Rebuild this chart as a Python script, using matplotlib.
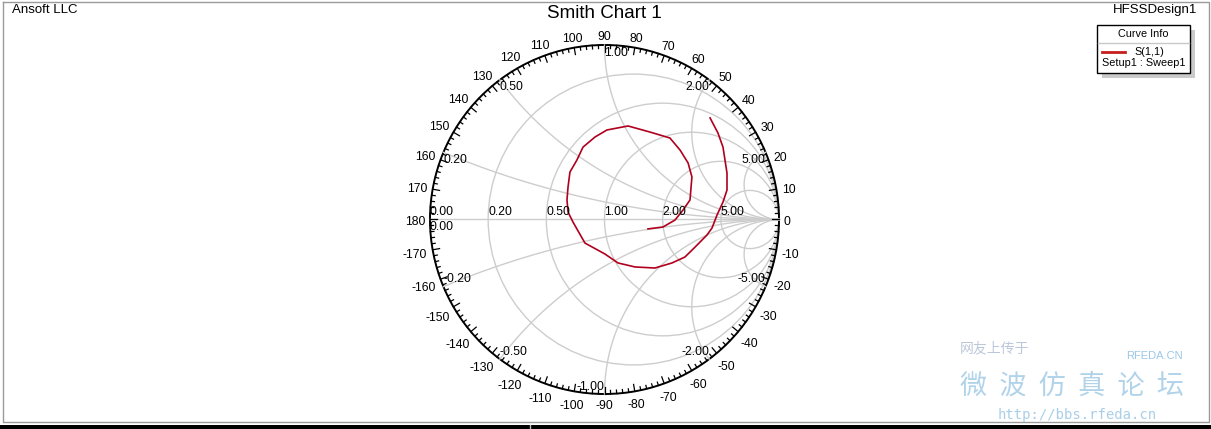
import numpy as np
import matplotlib.pyplot as plt
from matplotlib.patches import Rectangle, Circle

plt.rcParams['font.family'] = ['Liberation Sans', 'DejaVu Sans']

s11_re = [0.605, 0.650, 0.679, 0.702, 0.702, 0.679, 0.645, 0.616, 0.587, 0.519,
          0.461, 0.387, 0.289, 0.175, 0.077, 0.003, -0.112, -0.181, -0.209, -0.215,
          -0.209, -0.198, -0.158, -0.123, -0.054, 0.014, 0.135, 0.261, 0.375, 0.433,
          0.479, 0.501, 0.490, 0.450, 0.404, 0.335, 0.249]
s11_im = [0.582, 0.496, 0.415, 0.266, 0.169, 0.100, 0.026, -0.049, -0.089, -0.158,
          -0.215, -0.249, -0.278, -0.272, -0.249, -0.198, -0.135, -0.014, 0.043, 0.112,
          0.186, 0.272, 0.341, 0.415, 0.473, 0.513, 0.536, 0.501, 0.467, 0.398,
          0.324, 0.244, 0.112, 0.054, -0.003, -0.043, -0.054]

r_values = [0.2, 0.5, 1.0, 2.0, 5.0]
x_values = [0.2, 0.5, 1.0, 2.0, 5.0]
angle_labels = list(range(-170, 190, 10))

W, H = 1211, 429
cx, cy, R = 604.5, 219.5, 174.5
span = 1.3
grid_c = '#cdcdcd'
fs = 8.8

fig = plt.figure(figsize=(W / 100, H / 100), dpi=100)

# frame / decorations in pixel coordinates
bg = fig.add_axes([0, 0, 1, 1])
bg.set_xlim(0, W)
bg.set_ylim(H, 0)
bg.axis('off')
bg.plot([2.5, 1208.5, 1208.5, 2.5, 2.5], [1.5, 1.5, 421.5, 421.5, 1.5], color='#9a9a9a', lw=1)
bg.add_patch(Rectangle((0, 425), W, 5, color='black', lw=0))
bg.plot([530, 530], [425, 429], color='#bbbbbb', lw=1)
bg.text(12, 10, 'Ansoft LLC', fontsize=9.5, va='center', ha='left')
bg.text(1197, 10, 'HFSSDesign1', fontsize=9.5, va='center', ha='right')
bg.text(cx, 13, 'Smith Chart 1', fontsize=13.5, va='center', ha='center')

# legend box
bg.add_patch(Rectangle((1102, 30), 93, 48, color='#cacaca', lw=0))
bg.add_patch(Rectangle((1097, 25), 93, 48, facecolor='white', edgecolor='black', lw=1))
bg.plot([1098, 1189], [43, 43], color='#c8c8c8', lw=1)
bg.text(1143.5, 34, 'Curve Info', fontsize=7.8, ha='center', va='center')
bg.plot([1102, 1125], [52, 52], color='#c81e1e', lw=2)
bg.text(1134, 52, 'S(1,1)', fontsize=7.8, ha='left', va='center')
bg.text(1144, 63.5, 'Setup1 : Sweep1', fontsize=7.8, ha='center', va='center')

# forum watermark
wm = '#a9cfe8'
bg.text(960, 348, '网友上传于', fontsize=10, color='#bcc8da', family=['Noto Sans CJK SC'], va='center')
bg.text(1126, 356, 'RFEDA.CN', fontsize=8, color='#9cc6e6', va='center')
bg.text(1072, 386, '微  波  仿  真  论  坛', fontsize=19.5, color=wm, family=['Noto Sans CJK SC'],
        ha='center', va='center', alpha=0.9)
bg.text(1077, 415, 'http://bbs.rfeda.cn', fontsize=10, color=wm, family=['DejaVu Sans Mono'],
        ha='center', va='center')

# smith chart axes in reflection-coefficient units
ax = fig.add_axes([(cx - span * R) / W, (H - cy - span * R) / H, 2 * span * R / W, 2 * span * R / H])
ax.set_xlim(-span, span)
ax.set_ylim(-span, span)
ax.axis('off')
px = 1.0 / R

# resistance circles
for r in r_values:
    ax.add_patch(Circle((r / (1 + r), 0), 1 / (1 + r), fill=False, color=grid_c, lw=1))
ax.plot([-1, 1], [0, 0], color=grid_c, lw=1)

# reactance arcs
for x in x_values:
    rim = complex(x * x - 1, 2 * x) / (x * x + 1)
    phi0 = np.angle(rim - complex(1, 1 / x))
    phi0 = phi0 if phi0 > 0 else phi0 + 2 * np.pi
    t = np.linspace(phi0, 1.5 * np.pi, 200)
    ax_ = 1 + np.cos(t) / x
    ay_ = 1 / x + np.sin(t) / x
    ax.plot(ax_, ay_, color=grid_c, lw=1)
    ax.plot(ax_, -ay_, color=grid_c, lw=1)

# outer circle and angle ticks
ax.add_patch(Circle((0, 0), 1, fill=False, color='black', lw=1.4))
for a in range(0, 360, 2):
    L = 7 if a % 10 == 0 else 3.5
    t = np.deg2rad(a)
    ax.plot([np.cos(t), (1 - L * px) * np.cos(t)], [np.sin(t), (1 - L * px) * np.sin(t)],
            color='black', lw=0.9)

for a in angle_labels:
    s = str(a)
    w = 6.7 * len(s.lstrip('-')) + (4 if a < 0 else 0)
    t = np.deg2rad(a)
    off = 5 + abs(np.cos(t)) * w / 2 + abs(np.sin(t)) * 5
    rr = 1 + off * px
    ax.text(rr * np.cos(t), rr * np.sin(t) - 2.5 * px, s, fontsize=fs, ha='center', va='center')

# resistance labels
for r in [0.0] + r_values:
    ax.text((r - 1) / (r + 1), 1.5 * px, f'{r:.2f}', fontsize=fs, ha='left', va='bottom')
ax.text(-1, -1.5 * px, '0.00', fontsize=fs, ha='left', va='top')

# reactance labels
for x in x_values:
    for sgn in (1, -1):
        xv = sgn * x
        g = complex(xv * xv - 1, 2 * xv) / (xv * xv + 1)
        ha = 'left' if (g.real < -0.01 or (abs(g.real) < 0.01 and sgn > 0)) else 'right'
        va = 'top' if sgn > 0 else 'bottom'
        ax.text(g.real, g.imag - sgn * 1.5 * px, f'{xv:.2f}', fontsize=fs, ha=ha, va=va)

ax.plot(s11_re, s11_im, color='#b0001e', lw=1.2)

fig.savefig('out.png', dpi=100)
